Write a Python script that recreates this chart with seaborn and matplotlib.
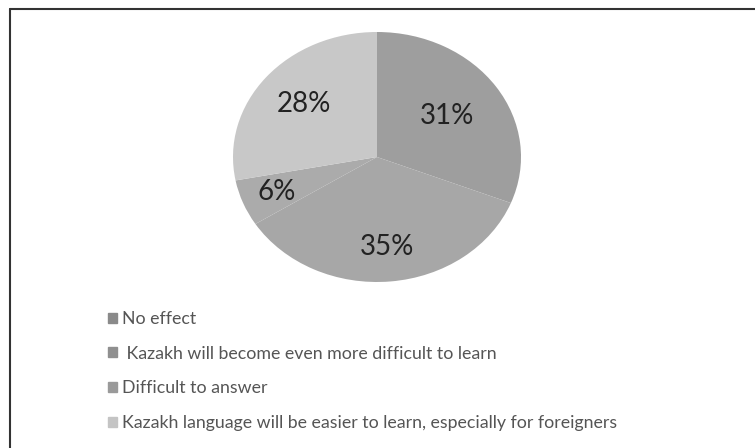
import matplotlib
matplotlib.use("Agg")
import matplotlib.pyplot as plt
import matplotlib.patches as mpatches
import numpy as np
import seaborn as sns

categories = [
    "No effect",
    " Kazakh will become even more difficult to learn",
    "Difficult to answer",
    "Kazakh language will be easier to learn, especially for foreigners",
]
values = [31, 35, 6, 28]
pct_labels = ["31%", "35%", "6%", "28%"]

colors = ["#9e9e9e", "#a7a7a7", "#ababab", "#c8c8c8"]
legend_colors = ["#8a8a8a", "#8f8f8f", "#9a9a9a", "#c4c4c4"]
label_dist = [0.59, 0.72, 0.75, 0.66]

sns.set_theme(style="white")
plt.rcParams["font.family"] = ["Lato", "DejaVu Sans"]

fig = plt.figure(figsize=(7.55, 4.48), dpi=100)
fig.patch.set_facecolor("white")

ax = fig.add_axes([233 / 755, 1 - 282 / 448, 288 / 755, 250 / 448])
wedges, texts = ax.pie(values, startangle=90, counterclock=False, colors=colors,
                       wedgeprops=dict(linewidth=0))
ax.set_xlim(-1, 1)
ax.set_ylim(-1, 1)
ax.set_aspect("auto")
ax.axis("off")

for w, lab, d in zip(wedges, pct_labels, label_dist):
    ang = np.deg2rad((w.theta1 + w.theta2) / 2)
    ax.text(d * np.cos(ang), d * np.sin(ang), lab, ha="center", va="center",
            fontsize=20, color="#222222")

handles = [mpatches.Patch(color=c, label=l) for c, l in zip(legend_colors, categories)]
leg = fig.legend(handles=handles, loc="upper left",
                 bbox_to_anchor=(108 / 755, 1 - 311 / 448), frameon=False,
                 fontsize=12.8, handlelength=0.5, handleheight=0.5,
                 handletextpad=0.3, labelspacing=1.05, borderpad=0, borderaxespad=0)
for t in leg.get_texts():
    t.set_color("#555555")

# frame lines (top and left)
fig.add_artist(plt.Line2D([10 / 755, 10 / 755], [0, 1 - 9 / 448], transform=fig.transFigure,
                          color="#333333", linewidth=1.5))
fig.add_artist(plt.Line2D([10 / 755, 1], [1 - 9 / 448, 1 - 9 / 448], transform=fig.transFigure,
                          color="#333333", linewidth=1.5))

fig.savefig("out.png", dpi=100)
